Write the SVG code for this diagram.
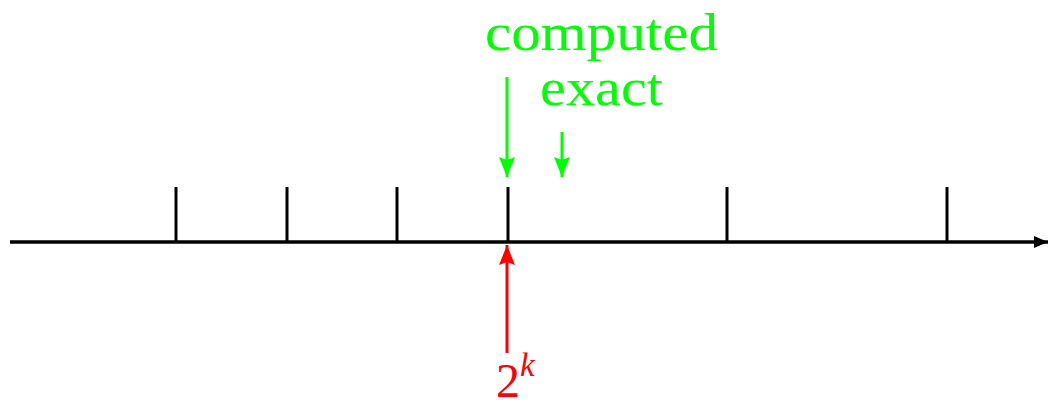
<svg xmlns="http://www.w3.org/2000/svg" width="1048" height="408" viewBox="0 0 1048 408">
<style>
.ax{stroke:#000;stroke-width:3.4;fill:none}
.tk{stroke:#000;stroke-width:3}
.g{stroke:#00ff00;stroke-width:3}
.r{stroke:#ff0000;stroke-width:3}
.t{font-family:"Liberation Serif","DejaVu Serif",serif}
</style>
<defs>
<marker id="ab" viewBox="0 0 14 12" refX="14" refY="6" markerWidth="14" markerHeight="12" markerUnits="userSpaceOnUse" orient="auto"><path d="M0,0L14,6L0,12z" fill="#000"/></marker>
<marker id="ag" viewBox="0 0 20 16" refX="20" refY="8" markerWidth="20" markerHeight="16" markerUnits="userSpaceOnUse" orient="auto"><path d="M0,0L20,8L0,16L3,8z" fill="#00ff00"/></marker>
<marker id="ar" viewBox="0 0 20 16" refX="20" refY="8" markerWidth="20" markerHeight="16" markerUnits="userSpaceOnUse" orient="auto"><path d="M0,0L20,8L0,16L3,8z" fill="#ff0000"/></marker>
</defs>
<g id="axis">
<line class="ax" x1="10" y1="242" x2="1048" y2="242" marker-end="url(#ab)"/>
</g>
<g id="ticks">
<line class="tk" x1="176" y1="187" x2="176" y2="242"/>
<line class="tk" x1="287" y1="187" x2="287" y2="242"/>
<line class="tk" x1="397" y1="187" x2="397" y2="242"/>
<line class="tk" x1="508" y1="187" x2="508" y2="242"/>
<line class="tk" x1="727" y1="187" x2="727" y2="242"/>
<line class="tk" x1="947" y1="187" x2="947" y2="242"/>
</g>
<g id="connectors">
<line class="g" x1="507" y1="77" x2="507" y2="177" marker-end="url(#ag)"/>
<line class="g" x1="562" y1="132" x2="562" y2="177" marker-end="url(#ag)"/>
<line class="r" x1="507" y1="353" x2="507" y2="245" marker-end="url(#ar)"/>
</g>
<g id="computed">
<text class="t" x="485" y="50" font-size="52" fill="#00ff00" textLength="233" lengthAdjust="spacingAndGlyphs">computed</text>
</g>
<g id="exact">
<text class="t" x="540" y="105" font-size="52" fill="#00ff00" textLength="123" lengthAdjust="spacingAndGlyphs">exact</text>
</g>
<g id="two-k">
<text class="t" x="496" y="397" font-size="48" fill="#ff0000">2<tspan font-style="italic" font-size="33" dy="-21">k</tspan></text>
</g>
</svg>
